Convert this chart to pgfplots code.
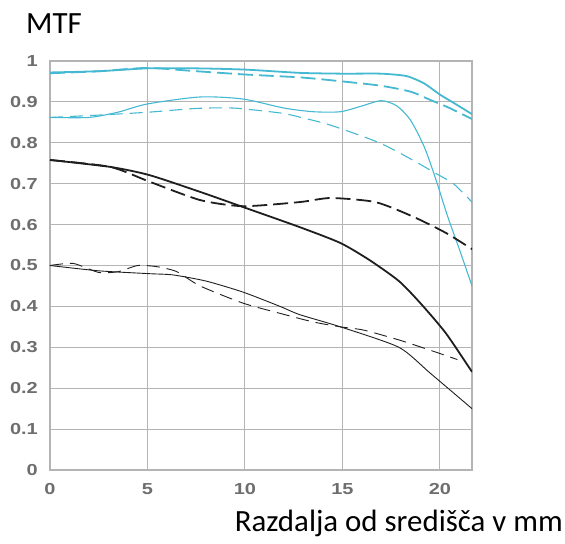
\documentclass[border=0pt]{standalone}
\usepackage{fontspec}
\setmainfont{Liberation Sans}
\newfontfamily\carlito{Carlito}
\newfontfamily\tickfont{Liberation Sans}[FakeStretch=1.25]
\usepackage{pgfplots}
\pgfplotsset{compat=1.18}
\definecolor{mtfcyan}{HTML}{45B8D2}
\definecolor{mtfblack}{HTML}{1E1E1E}
\definecolor{mtfgrid}{HTML}{B4B4B4}
\definecolor{mtftick}{HTML}{6E6E6E}

\begin{document}
\begin{tikzpicture}
\path[use as bounding box] (-50bp,-74bp) rectangle (515bp,470bp);
\begin{axis}[
  scale only axis,
  width=422bp, height=409bp,
  xmin=0, xmax=21.65,
  ymin=0, ymax=1,
  xtick={0,5,10,15,20},
  ytick={0,0.1,...,1.0},
  yticklabels={0,0.1,0.2,0.3,0.4,0.5,0.6,0.7,0.8,0.9,1},
  grid=major,
  grid style={mtfgrid, line width=1.1pt},
  axis line style={mtfgrid, line width=1.1pt},
  major tick length=0pt,
  tick style={draw=none},
  /pgf/number format/assume math mode=true,
  tick label style={font=\tickfont\fontsize{16}{18}\selectfont\bfseries, text=mtftick, inner sep=0pt},
  yticklabel style={anchor=east, xshift=-12bp},
  xticklabel style={anchor=north, yshift=-13bp},
  clip=true,
]
% cyan, thick solid
\addplot[mtfcyan, line width=1.8pt, smooth, tension=0.4] coordinates {
  (0,0.972) (2.5,0.975) (5,0.982) (7.5,0.982) (10,0.979) (12.8,0.971)
  (15,0.969) (17,0.969) (18.3,0.963) (19.2,0.945) (20,0.918) (20.8,0.895) (21.65,0.870)};
% cyan, thick dashed
\addplot[mtfcyan, line width=1.8pt, dash pattern=on 15pt off 6pt, smooth, tension=0.4] coordinates {
  (0,0.970) (2.5,0.975) (5,0.983) (7.5,0.975) (10,0.967) (12.8,0.960)
  (14.4,0.953) (16.9,0.940) (18.5,0.925) (19.5,0.905) (20.5,0.885) (21.65,0.858)};
% cyan, thin solid
\addplot[mtfcyan, line width=1.1pt, smooth, tension=0.45] coordinates {
  (0,0.862) (2,0.862) (3.5,0.875) (5,0.895) (7.7,0.912) (9.9,0.907) (12,0.885)
  (13.5,0.876) (14.9,0.876) (16,0.890) (17,0.903) (17.8,0.890) (18.5,0.855)
  (19.2,0.790) (19.8,0.710) (20.4,0.620) (21,0.540) (21.65,0.450)};
% cyan, thin dashed
\addplot[mtfcyan, line width=1.1pt, dash pattern=on 13pt off 7pt, smooth, tension=0.4] coordinates {
  (0,0.862) (2.6,0.868) (5.1,0.875) (7.5,0.884) (9.4,0.885) (11.8,0.873)
  (12.8,0.863) (14.4,0.843) (16.9,0.800) (18.6,0.758) (19.8,0.725) (20.7,0.700) (21.65,0.655)};
% black, thick solid
\addplot[mtfblack, line width=1.8pt, smooth, tension=0.4] coordinates {
  (0,0.758) (3.1,0.741) (5.1,0.721) (7.7,0.680) (9.9,0.643) (12.8,0.594)
  (14.9,0.555) (16.4,0.513) (17.9,0.462) (19,0.408) (20.3,0.335) (21.65,0.240)};
% black, thick dashed
\addplot[mtfblack, line width=1.8pt, dash pattern=on 15pt off 6pt, smooth, tension=0.4] coordinates {
  (0,0.758) (3.1,0.741) (5.1,0.705) (7.7,0.660) (9.9,0.645) (12.8,0.655)
  (14.4,0.665) (16.7,0.655) (18.6,0.620) (20.3,0.580) (21.65,0.540)};
% black, thin solid
\addplot[mtfblack, line width=0.9pt, smooth, tension=0.4] coordinates {
  (0,0.500) (2.5,0.487) (5.1,0.480) (6.3,0.477) (8,0.462) (9.9,0.435)
  (11.8,0.400) (12.8,0.380) (14.9,0.350) (17.9,0.300) (19.5,0.237) (21.65,0.150)};
% black, thin dashed
\addplot[mtfblack, line width=0.9pt, dash pattern=on 13pt off 7pt, smooth, tension=0.4] coordinates {
  (0,0.500) (1.2,0.505) (2.5,0.483) (3.5,0.485) (4.5,0.500) (5.5,0.497)
  (6.5,0.485) (7.7,0.450) (9.9,0.408) (11.8,0.383) (13.5,0.362) (14.9,0.350)
  (16.1,0.342) (17.9,0.318) (19.5,0.293) (20.9,0.270)};
\end{axis}
\node[anchor=base west, inner sep=0pt, font=\carlito\fontsize{31}{34}\selectfont] at (-24bp,436bp) {MTF};
\node[anchor=base east, inner sep=0pt, font=\carlito\fontsize{31}{34}\selectfont] at (513bp,-61bp) {Razdalja od središča v mm};
\end{tikzpicture}
\end{document}
